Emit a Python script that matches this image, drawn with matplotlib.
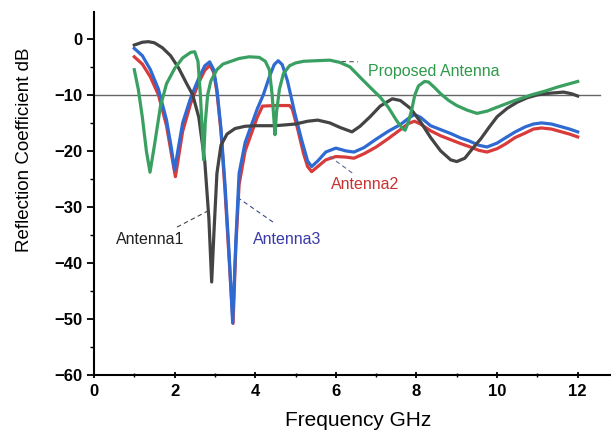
import matplotlib
matplotlib.use("Agg")
import matplotlib.pyplot as plt
from matplotlib.ticker import MultipleLocator

plt.rcParams['font.family'] = ['Liberation Sans', 'DejaVu Sans']

# ---- data ----
a1_x = [1.0, 1.2, 1.35, 1.5, 1.7, 1.9, 2.1, 2.3, 2.45, 2.6, 2.75, 2.85, 2.92, 2.98, 3.05, 3.15,
        3.3, 3.5, 3.75, 4.0, 4.5, 5.0, 5.3, 5.55, 5.85, 6.1, 6.4, 6.6, 6.85, 7.1, 7.4, 7.6,
        7.85, 8.1, 8.35, 8.6, 8.85, 9.0, 9.2, 9.4, 9.6, 9.8, 10.0, 10.25, 10.5, 10.75, 11.0,
        11.3, 11.65, 11.85, 12.0]
a1_y = [-1.1, -0.6, -0.5, -0.7, -1.6, -3.0, -5.2, -8.0, -10.0, -14.0, -22.0, -32.0, -43.4, -34.0,
        -24.0, -19.0, -17.0, -16.0, -15.6, -15.5, -15.5, -15.2, -14.7, -14.5, -15.0, -15.8, -16.6,
        -15.6, -13.9, -12.0, -10.7, -11.0, -12.4, -14.8, -17.6, -20.0, -21.6, -21.9, -21.3, -19.5,
        -17.8, -15.8, -13.9, -12.4, -11.3, -10.5, -10.0, -9.7, -9.5, -9.8, -10.2]

prop_x = [1.0, 1.1, 1.2, 1.3, 1.39, 1.5, 1.65, 1.8, 2.0, 2.2, 2.4, 2.5, 2.58, 2.64, 2.69, 2.72,
          2.76, 2.82, 2.9, 3.05, 3.2, 3.4, 3.6, 3.85, 4.1, 4.25, 4.35, 4.42, 4.47, 4.49, 4.53,
          4.6, 4.7, 4.85, 5.0, 5.2, 5.5, 5.85, 6.1, 6.35, 6.65, 6.9, 7.1, 7.3, 7.5, 7.65, 7.72,
          7.8, 7.88, 7.96, 8.05, 8.2, 8.3, 8.45, 8.6, 8.8, 9.0, 9.25, 9.5, 9.75, 10.0, 10.4,
          10.85, 11.2, 11.5, 11.75, 12.0]
prop_y = [-5.5, -9.0, -14.0, -20.0, -23.8, -19.0, -12.0, -8.0, -5.3, -3.4, -2.4, -2.3, -4.0, -10.0,
          -17.0, -21.6, -15.0, -10.0, -7.5, -5.5, -4.5, -4.0, -3.5, -3.2, -3.3, -4.0, -5.5, -10.0,
          -15.0, -17.1, -13.0, -9.0, -6.2, -4.8, -4.3, -4.0, -3.9, -3.8, -4.2, -5.0, -7.2, -9.0,
          -10.4, -12.2, -14.5, -16.0, -16.3, -14.8, -12.7, -10.0, -8.4, -7.6, -7.7, -8.7, -9.8,
          -11.0, -11.9, -12.7, -13.3, -12.9, -12.2, -11.1, -10.0, -9.3, -8.6, -8.1, -7.6]

a3_x = [1.0, 1.2, 1.4, 1.6, 1.8, 1.92, 2.0, 2.08, 2.2, 2.4, 2.6, 2.75, 2.87, 2.97, 3.05, 3.15,
        3.25, 3.35, 3.44, 3.52, 3.6, 3.75, 3.9, 4.05, 4.2, 4.35, 4.47, 4.57, 4.67, 4.8, 4.98,
        5.15, 5.3, 5.4, 5.55, 5.75, 6.0, 6.25, 6.45, 6.7, 7.0, 7.3, 7.6, 7.8, 7.95, 8.1, 8.35,
        8.6, 8.85, 9.1, 9.3, 9.55, 9.75, 10.0, 10.2, 10.45, 10.7, 10.9, 11.1, 11.35, 11.6,
        11.8, 12.0]
a3_y = [-1.7, -3.0, -5.5, -9.0, -14.5, -19.5, -23.4, -20.0, -15.0, -10.5, -7.0, -4.8, -4.1, -5.5,
        -9.0, -16.0, -26.0, -38.0, -50.7, -36.0, -24.0, -18.5, -15.5, -12.5, -10.0, -6.8, -4.6,
        -3.9, -4.6, -7.5, -13.2, -18.0, -21.8, -22.8, -21.8, -20.2, -19.5, -20.0, -20.2, -19.4,
        -17.9, -16.5, -15.3, -14.2, -13.5, -14.0, -15.5, -16.2, -16.9, -17.7, -18.2, -19.0,
        -19.3, -18.6, -17.7, -16.6, -15.7, -15.2, -15.0, -15.2, -15.7, -16.1, -16.6]

a2_x = [1.0, 1.2, 1.4, 1.6, 1.8, 1.92, 2.02, 2.1, 2.2, 2.4, 2.6, 2.75, 2.88, 2.97, 3.05, 3.15,
        3.25, 3.35, 3.45, 3.52, 3.6, 3.75, 3.9, 4.05, 4.18, 4.5, 4.85, 4.92, 5.05, 5.2, 5.3,
        5.4, 5.55, 5.75, 6.0, 6.25, 6.45, 6.7, 7.0, 7.3, 7.6, 7.8, 7.95, 8.1, 8.35, 8.6, 8.85,
        9.1, 9.3, 9.55, 9.75, 10.0, 10.2, 10.45, 10.7, 10.9, 11.1, 11.35, 11.6, 11.8, 12.0]
a2_y = [-3.2, -4.5, -6.8, -10.0, -15.5, -20.5, -24.6, -21.0, -16.5, -11.5, -7.8, -5.6, -4.7, -6.0,
        -9.5, -16.5, -27.0, -39.0, -50.8, -37.0, -26.0, -20.0, -17.0, -14.0, -12.0, -11.9, -11.9,
        -12.5, -16.0, -20.5, -22.8, -23.7, -22.8, -21.6, -21.0, -21.1, -21.3, -20.5, -19.3,
        -17.8, -16.2, -15.1, -14.7, -15.2, -16.4, -17.3, -18.0, -18.7, -19.2, -19.9, -20.2,
        -19.6, -18.8, -17.6, -16.8, -16.1, -15.9, -16.1, -16.6, -17.0, -17.5]

ref_level = -10
x_ticks = [0, 2, 4, 6, 8, 10, 12]
y_ticks = [0, -10, -20, -30, -40, -50, -60]

# ---- figure ----
fig = plt.figure(figsize=(6.11, 4.36), dpi=100)
ax = fig.add_axes([0.1538, 0.1399, 0.8445, 0.8326])

c_green = '#3aa062'
c_black = '#444444'
c_red = '#d93a3a'
c_blue = '#2e6ad2'

ax.plot([0, 12.55], [ref_level, ref_level], color='#666666', lw=1.0, zorder=1)
ax.plot(a2_x, a2_y, color=c_red, lw=2.3, zorder=2)
ax.plot(a3_x, a3_y, color=c_blue, lw=2.3, zorder=3)
ax.plot(a1_x, a1_y, color=c_black, lw=2.3, zorder=4)
ax.plot(prop_x, prop_y, color=c_green, lw=2.3, zorder=5)

# annotations
ax.plot([5.95, 6.55], [-4.0, -4.1], ls=(0, (4, 3)), color='#555555', lw=0.8)
ax.text(6.8, -5.9, 'Proposed Antenna', color='#2e9a4a', fontsize=11.5, va='center', ha='left')
ax.plot([5.85, 6.42], [-21.0, -24.0], ls=(0, (4, 3)), color='#5a6a9a', lw=0.8)
ax.text(6.72, -26.0, 'Antenna2', color='#c83232', fontsize=11.5, va='center', ha='center')
ax.plot([2.06, 2.83], [-33.6, -30.7], ls=(0, (4, 3)), color='#444444', lw=0.8)
ax.text(1.39, -35.9, 'Antenna1', color='#222222', fontsize=11.5, va='center', ha='center')
ax.plot([4.44, 3.54], [-32.7, -28.2], ls=(0, (4, 3)), color='#3a4a8a', lw=0.8)
ax.text(4.8, -35.9, 'Antenna3', color='#3a3aa8', fontsize=11.5, va='center', ha='center')

ax.set_xlim(0, 12.8)
ax.set_ylim(-60, 4.8)
ax.set_xticks(x_ticks)
ax.set_yticks(y_ticks)
ax.xaxis.set_minor_locator(MultipleLocator(1))
ax.yaxis.set_minor_locator(MultipleLocator(5))
for lab in ax.get_xticklabels() + ax.get_yticklabels():
    lab.set_fontweight('bold')
ax.tick_params(axis='both', which='major', labelsize=12, width=1.3, length=5)
ax.tick_params(axis='both', which='minor', width=1.0, length=3)
ax.tick_params(axis='x', which='both', direction='inout', pad=4)
ax.tick_params(axis='y', which='both', direction='out', pad=3.5)

for s in ['top', 'right']:
    ax.spines[s].set_visible(False)
for s in ['left', 'bottom']:
    ax.spines[s].set_linewidth(1.5)

ax.set_xlabel('Frequency GHz', fontsize=15)
ax.set_ylabel('Reflection Coefficient dB', fontsize=13.5)
ax.xaxis.set_label_coords(0.512, -0.098)
ax.yaxis.set_label_coords(-0.118, 0.62)

fig.savefig('out.png', dpi=100)
